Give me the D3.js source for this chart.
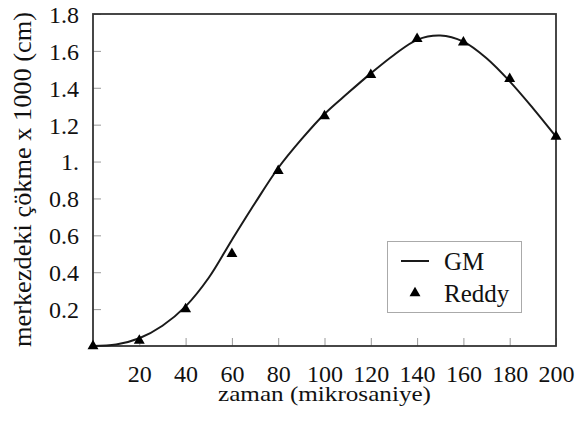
<!DOCTYPE html>
<meta charset="utf-8">
<title>merkezdeki çökme</title>
<style>
body {
  margin: 0px;
  background: #fff;
}
</style>
<body>
<script src="https://cdn.jsdelivr.net/npm/d3@7"></script>
<script>

// time axis (mikrosaniye)
var gmTime = [0, 10, 20, 30, 40, 50, 60, 70, 80, 90, 100, 110, 120, 130, 140, 150, 160, 170, 180, 190, 200];
var gmValue = [0, 0.008, 0.042, 0.11, 0.215, 0.37, 0.575, 0.775, 0.965, 1.12, 1.258, 1.37, 1.478, 1.578, 1.66, 1.683, 1.65, 1.56, 1.435, 1.29, 1.135];

var reddyTime = [0, 20, 40, 60, 80, 100, 120, 140, 160, 180, 200];
var reddyValue = [0, 0.03, 0.2, 0.5, 0.95, 1.247, 1.47, 1.665, 1.647, 1.448, 1.135];

var xTicks = [20, 40, 60, 80, 100, 120, 140, 160, 180, 200];
var yTicks = [0.2, 0.4, 0.6, 0.8, 1, 1.2, 1.4, 1.6, 1.8];
var yTickLabels = ["0.2", "0.4", "0.6", "0.8", "1.", "1.2", "1.4", "1.6", "1.8"];

var seriesNames = ["GM", "Reddy"];

var FONT = "Liberation Serif";
var width = 585, height = 423;
var margin = {left: 93, top: 14, right: 29, bottom: 77};

var svg = d3.select("body").append("svg")
    .attr("width", width)
    .attr("height", height)
    .attr("font-family", FONT);

var x = d3.scaleLinear().domain([0, 200]).range([margin.left, width - margin.right]);
var y = d3.scaleLinear().domain([0, 1.8]).range([height - margin.bottom, margin.top]);

// axes, ticks pointing inward
var xAxis = d3.axisBottom(x)
    .tickValues(xTicks)
    .tickSizeInner(-8)
    .tickSizeOuter(0)
    .tickPadding(19);
var yAxis = d3.axisLeft(y)
    .tickValues(yTicks)
    .tickFormat(function (d, i) { return yTickLabels[i]; })
    .tickSizeInner(-8)
    .tickSizeOuter(0)
    .tickPadding(14);

var gx = svg.append("g")
    .attr("transform", "translate(0," + y(0) + ")")
    .call(xAxis);
var gy = svg.append("g")
    .attr("transform", "translate(" + x(0) + ",0)")
    .call(yAxis);

[gx, gy].forEach(function (g) {
  g.attr("font-family", FONT).attr("font-size", 24);
  g.select(".domain").remove();
  g.selectAll(".tick line").attr("stroke", "#999").attr("stroke-width", 1);
  g.selectAll(".tick text")
      .attr("fill", "#111")
      .attr("font-family", FONT)
      .attr("font-size", 24);
});
gy.selectAll(".tick text").attr("dy", "0.35em");

// frame
svg.append("rect")
    .attr("x", x(0))
    .attr("y", y(1.8))
    .attr("width", x(200) - x(0))
    .attr("height", y(0) - y(1.8))
    .attr("fill", "none")
    .attr("stroke", "#333")
    .attr("stroke-width", 1.8);

// GM curve
var line = d3.line()
    .x(function (d, i) { return x(gmTime[i]); })
    .y(function (d) { return y(d); })
    .curve(d3.curveCatmullRom.alpha(0.5));

svg.append("path")
    .attr("d", line(gmValue))
    .attr("fill", "none")
    .attr("stroke", "#1a1a1a")
    .attr("stroke-width", 2);

// Reddy points
var tri = d3.symbol().type(d3.symbolTriangle).size(52);
svg.append("g").selectAll("path")
    .data(reddyValue)
  .enter().append("path")
    .attr("d", tri)
    .attr("transform", function (d, i) { return "translate(" + x(reddyTime[i]) + "," + y(d) + ")"; })
    .attr("fill", "#000");

// axis titles
svg.append("text")
    .attr("x", (x(0) + x(200)) / 2)
    .attr("y", 401)
    .attr("text-anchor", "middle")
    .attr("font-family", FONT)
    .attr("font-size", 22)
    .attr("textLength", 213)
    .attr("lengthAdjust", "spacingAndGlyphs")
    .attr("fill", "#111")
    .text("zaman (mikrosaniye)");

svg.append("text")
    .attr("transform", "translate(31," + 179.5 + ") rotate(-90)")
    .attr("text-anchor", "middle")
    .attr("font-family", FONT)
    .attr("font-size", 25)
    .attr("textLength", 335)
    .attr("lengthAdjust", "spacingAndGlyphs")
    .attr("fill", "#111")
    .text("merkezdeki çökme x 1000 (cm)");

// legend
var lg = svg.append("g");
lg.append("rect")
    .attr("x", 387.5).attr("y", 241.5)
    .attr("width", 134).attr("height", 71)
    .attr("fill", "#fff")
    .attr("stroke", "#aaa")
    .attr("stroke-width", 1);
lg.append("line")
    .attr("x1", 401).attr("x2", 429)
    .attr("y1", 261).attr("y2", 261)
    .attr("stroke", "#1a1a1a")
    .attr("stroke-width", 2);
lg.append("path")
    .attr("d", tri)
    .attr("transform", "translate(415,293)")
    .attr("fill", "#000");
lg.selectAll("text")
    .data(seriesNames)
  .enter().append("text")
    .attr("x", 444)
    .attr("y", function (d, i) { return i === 0 ? 270 : 302; })
    .attr("font-family", FONT)
    .attr("font-size", 25)
    .attr("fill", "#111")
    .text(function (d) { return d; });

</script>
